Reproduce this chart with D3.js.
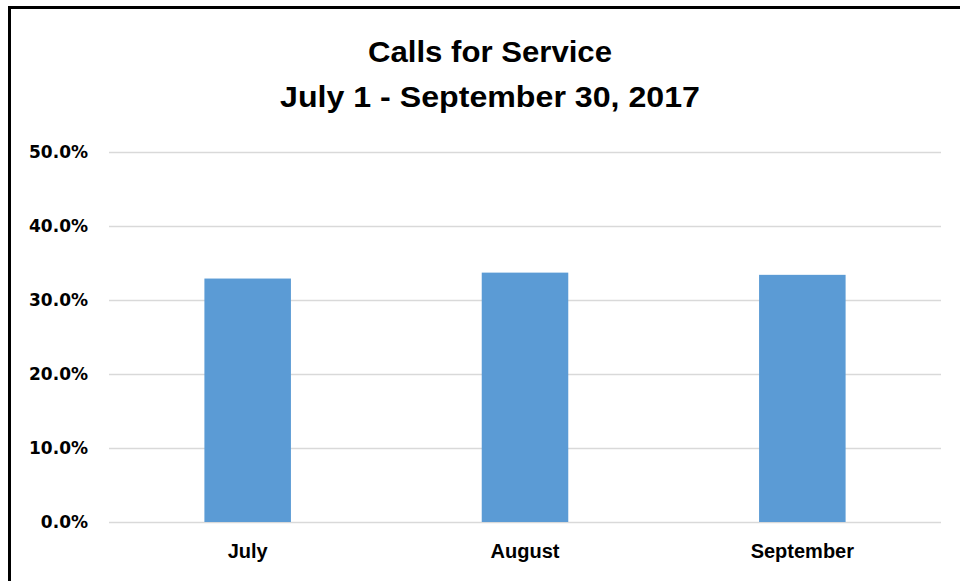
<!DOCTYPE html>
<html>
<head>
<meta charset="utf-8">
<script src="https://cdn.jsdelivr.net/npm/d3@7"></script>
<style>
  html, body { margin: 0; padding: 0; background: #fff; }
  svg { display: block; }
  text { font-weight: bold; fill: #000; }
</style>
</head>
<body>
<svg id="chart" width="960" height="581"></svg>
<script>
const categories = ["July", "August", "September"];
const values = [0.329, 0.337, 0.334];
const yTicks = [0, 0.1, 0.2, 0.3, 0.4, 0.5];
const titleLines = ["Calls for Service", "July 1 - September 30, 2017"];

const svg = d3.select("#chart");
const W = 960, H = 581;

svg.append("rect").attr("width", W).attr("height", H).attr("fill", "#fff");
// outer frame (right/bottom edges cropped off)
svg.append("rect")
  .attr("x", 9.5).attr("y", 7.5).attr("width", W + 20).attr("height", H + 20)
  .attr("fill", "none").attr("stroke", "#000").attr("stroke-width", 3);

const plot = { left: 109, right: 941, top: 152, bottom: 522 };

const x = d3.scaleBand().domain(categories).range([plot.left, plot.right]).padding(0);
const y = d3.scaleLinear().domain([0, 0.5]).range([plot.bottom, plot.top]);

// gridlines
const grid = d3.axisLeft(y).tickValues(yTicks).tickSize(-(plot.right - plot.left)).tickFormat("");
svg.append("g").attr("transform", `translate(${plot.left},0)`).call(grid)
  .call(g => g.select(".domain").remove())
  .call(g => g.selectAll("line").attr("stroke", "#d9d9d9").attr("stroke-width", 1.3));

// bars
const barFrac = 0.312;
svg.append("g").selectAll("rect").data(values).join("rect")
  .attr("x", (d, i) => x(categories[i]) + x.bandwidth() * (1 - barFrac) / 2)
  .attr("width", x.bandwidth() * barFrac)
  .attr("y", d => y(d))
  .attr("height", d => y(0) - y(d))
  .attr("fill", "#5b9bd5");

// y axis labels
const yAxis = d3.axisLeft(y).tickValues(yTicks).tickSize(0).tickPadding(21)
  .tickFormat(d3.format(".1%"));
svg.append("g").attr("transform", `translate(${plot.left},0)`).call(yAxis)
  .call(g => g.select(".domain").remove())
  .call(g => g.selectAll("text")
    .style("font-size", "17px").style("font-family", "'DejaVu Sans', Verdana, sans-serif")
    .style("font-weight", "bold").attr("fill", "#000").attr("dy", "0.35em"));

// x axis labels
const xAxis = d3.axisBottom(x).tickSize(0).tickPadding(22);
svg.append("g").attr("transform", `translate(0,${plot.bottom})`).call(xAxis)
  .call(g => g.select(".domain").remove())
  .call(g => g.selectAll("text")
    .style("font-size", "20px").style("font-family", "'Liberation Sans', Arial, sans-serif")
    .style("font-weight", "bold").attr("fill", "#000"));

// title
const titleWidths = [244, 420];
svg.append("g").selectAll("text").data(titleLines).join("text")
  .attr("x", 490).attr("y", (d, i) => 62 + i * 45)
  .attr("text-anchor", "middle")
  .style("font-size", "30px").style("font-family", "'Liberation Sans', Arial, sans-serif")
  .attr("textLength", (d, i) => titleWidths[i]).attr("lengthAdjust", "spacingAndGlyphs")
  .text(d => d);
</script>
</body>
</html>
